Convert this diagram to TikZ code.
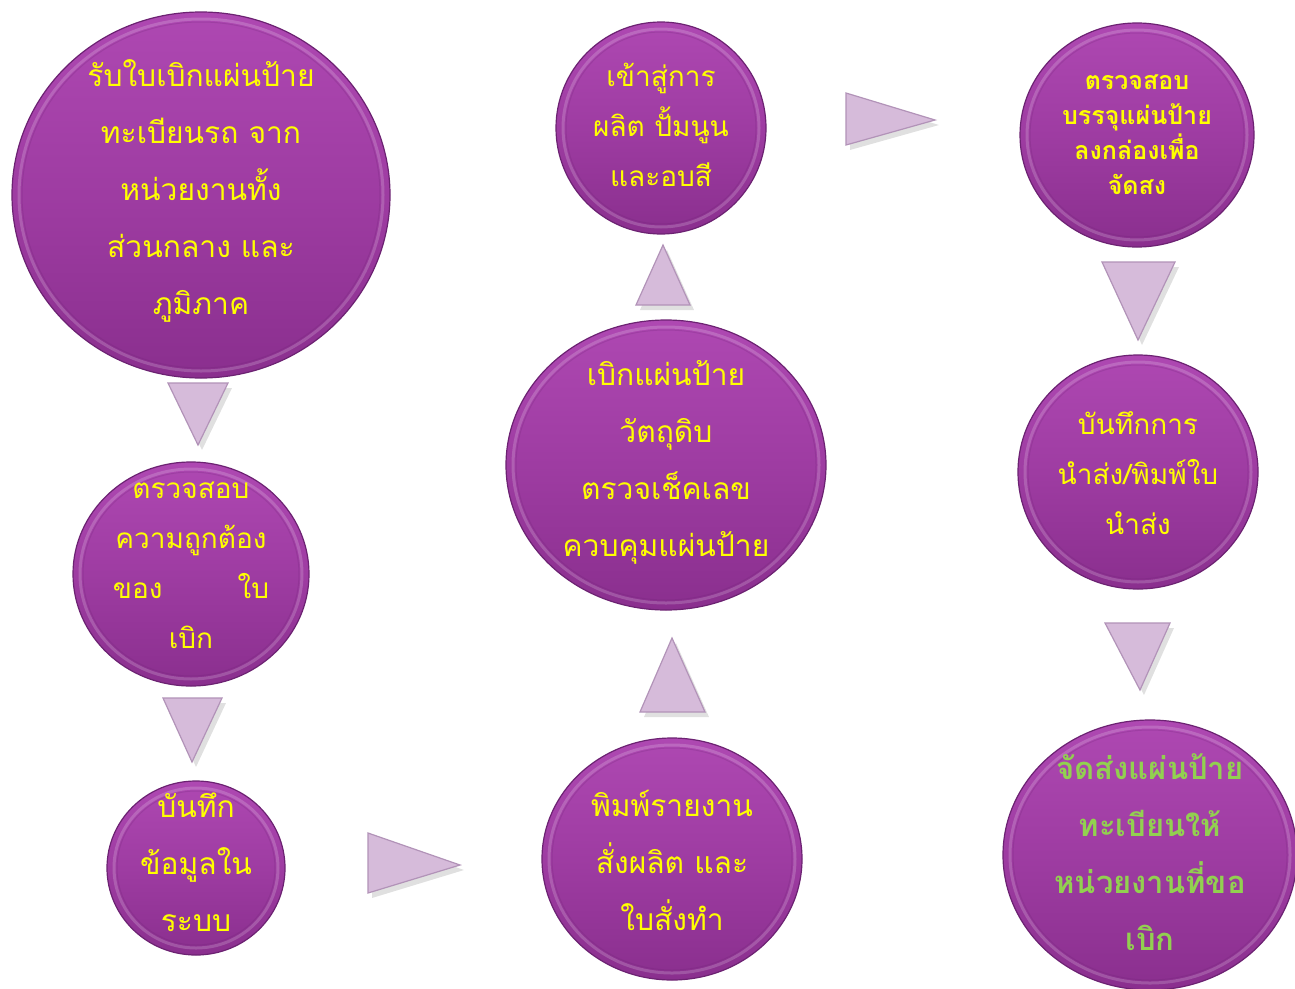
\documentclass[tikz,border=0pt]{standalone}
\usepackage{fontspec}
\newfontfamily\thai[Script=Thai]{Loma}
\usetikzlibrary{shapes.geometric}
\definecolor{sphtop}{HTML}{AE48B2}
\definecolor{sphmid}{HTML}{9E3CA2}
\definecolor{sphbot}{HTML}{8A2F8E}
\definecolor{sphedge}{HTML}{6C2272}
\definecolor{tri}{HTML}{D6BBDA}
\definecolor{triedge}{HTML}{B293B8}
\definecolor{ylw}{HTML}{FFFF00}
\definecolor{grn}{HTML}{92D050}
\newcommand{\sph}[5]{%
  \node[sphere, minimum width=#4*2pt, minimum height=#5*2pt] (#1) at (#2,#3) {};
  \draw[white, opacity=0.18, line width=3pt] (#1.center) ellipse [x radius=#4-7, y radius=#5-7];
  \draw[sphedge, opacity=0.22, line width=1pt] (#1.center) ellipse [x radius=#4-10, y radius=#5-10];
}
\newcommand{\tri}[7]{%
  \fill[black, opacity=0.12] ([shift={(4,5)}]#2,#3) -- ([shift={(4,5)}]#4,#5) -- ([shift={(4,5)}]#6,#7) -- cycle;
  \draw[tristyle] (#2,#3) coordinate (#1a) -- (#4,#5) coordinate (#1b) -- (#6,#7) coordinate (#1c) -- cycle;
}
\begin{document}
\begin{tikzpicture}[x=1pt,y=-1pt,
  sphere/.style={ellipse, inner sep=0pt, outer sep=0pt, top color=sphtop, bottom color=sphbot, middle color=sphmid, draw=sphedge, line width=1.2pt},
  tristyle/.style={fill=tri, draw=triedge, line width=1.2pt, line join=miter},
  txt/.style={align=center, text=ylw, inner sep=0pt, font=\thai\fontsize{30}{57}\selectfont},
  txtb/.style={align=center, text=ylw, inner sep=0pt, font=\thai\bfseries\fontsize{25}{35}\selectfont},
  txtg/.style={align=center, text=grn, inner sep=0pt, font=\thai\bfseries\fontsize{31}{57}\selectfont}]
\fill[white] (0,0) rectangle (1295,988);
\useasboundingbox (0,0) rectangle (1295,988);

% triangles
\tri{ta}{168}{383}{228}{383}{198}{445}
\tri{tb}{163}{698}{222}{698}{192}{762}
\tri{tc}{368}{833}{368}{893}{460}{865}
\tri{td}{640}{712}{705}{712}{672}{638}
\tri{te}{636}{305}{690}{305}{663}{245}
\tri{tf}{846}{93}{846}{145}{935}{120}
\tri{tg}{1102}{262}{1175}{262}{1138}{340}
\tri{th}{1105}{623}{1170}{623}{1140}{690}

% spheres
\sph{s1}{201}{195}{189}{183}
\sph{s2}{191}{574}{118}{112}
\sph{s3}{196}{868}{89}{87}
\sph{s4}{661}{128}{105}{106}
\sph{s5}{666}{465}{160}{145}
\sph{s6}{672}{859}{130}{121}
\sph{s7}{1137}{135}{117}{112}
\sph{s8}{1138}{472}{120}{117}
\sph{s9}{1150}{855}{147}{135}

% texts
\node[txt] (l1) at (201,191) {รับใบเบิกแผ่นป้าย\\ทะเบียนรถ จาก\\หน่วยงานทั้ง\\ส่วนกลาง และ\\ภูมิภาค};
\node[txt, font=\thai\fontsize{28}{50}\selectfont] (l2) at (191,565) {ตรวจสอบ\\ความถูกต้อง\\ของ\hspace{75pt}ใบ\\เบิก};
\node[txt] (l3) at (196,862) {บันทึก\\ข้อมูลใน\\ระบบ};
\node[txt, font=\thai\fontsize{28}{50}\selectfont] (l4) at (661,125) {เข้าสู่การ\\ผลิต ปั้มนูน\\และอบสี};
\node[txt] (l5) at (666,462) {เบิกแผ่นป้าย\\วัตถุดิบ\\ตรวจเช็คเลข\\ควบคุมแผ่นป้าย};
\node[txt] (l6) at (672,860) {พิมพ์รายงาน\\สั่งผลิต และ\\ใบสั่งทำ};
\node[txtb] (l7) at (1137,135) {ตรวจสอบ\\บรรจุแผ่นป้าย\\ลงกล่องเพื่อ\\จัดสง};
\node[txt, font=\thai\fontsize{28}{50}\selectfont] (l8) at (1138,473) {บันทึกการ\\นำส่ง/พิมพ์ใบ\\นำส่ง};
\node[txtg] (l9) at (1150,852) {จัดส่งแผ่นป้าย\\ทะเบียนให้\\หน่วยงานที่ขอ\\เบิก};
\end{tikzpicture}
\end{document}
